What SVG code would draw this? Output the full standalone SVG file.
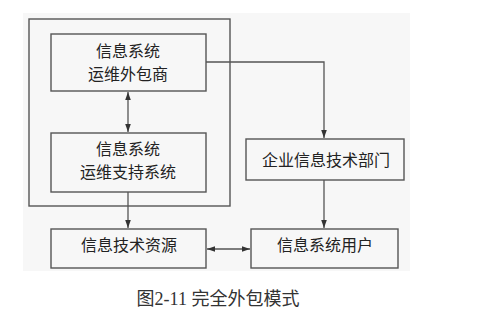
<svg xmlns="http://www.w3.org/2000/svg" width="484" height="320" viewBox="0 0 484 320">
<defs>
<style>
.box{fill:none;stroke:#555;stroke-width:1.4}
.lbl{font-family:"Noto Sans CJK SC","Liberation Sans",sans-serif;font-size:16px;fill:#222;text-anchor:middle}
.line{fill:none;stroke:#555;stroke-width:1.3}
.cap{font-family:"Liberation Serif","Noto Sans CJK SC",serif;font-size:18px;fill:#333;text-anchor:middle}
</style>
<marker id="ah" viewBox="0 0 10 10" refX="10" refY="5" markerWidth="8" markerHeight="8" markerUnits="userSpaceOnUse" orient="auto-start-reverse">
<path d="M0,1.5 L10,5 L0,8.5 z" fill="#333"/>
</marker>
</defs>
<rect x="0" y="0" width="484" height="320" fill="#fff"/>
<rect x="23" y="13" width="387" height="258" fill="#f7f7f7"/>
<g id="outer"><rect class="box" x="29" y="19" width="201" height="187"/></g>
<g id="outsourcer"><rect class="box" x="51" y="34" width="155" height="57"/><text class="lbl" x="128" y="57">信息系统</text><text class="lbl" x="128" y="80">运维外包商</text></g>
<g id="support"><rect class="box" x="51" y="133" width="155" height="59"/><text class="lbl" x="128" y="155">信息系统</text><text class="lbl" x="128" y="178">运维支持系统</text></g>
<g id="itdept"><rect class="box" x="246" y="139" width="158" height="41"/><text class="lbl" x="326" y="166">企业信息技术部门</text></g>
<g id="resource"><rect class="box" x="51" y="229" width="155" height="39"/><text class="lbl" x="129" y="251">信息技术资源</text></g>
<g id="users"><rect class="box" x="251" y="229" width="147" height="39"/><text class="lbl" x="325" y="251">信息系统用户</text></g>
<g id="connectors">
<line class="line" x1="128" y1="92" x2="128" y2="132" marker-start="url(#ah)" marker-end="url(#ah)"/>
<polyline class="line" points="206,62 324,62 324,138" marker-end="url(#ah)"/>
<line class="line" x1="324" y1="180" x2="324" y2="228" marker-end="url(#ah)"/>
<line class="line" x1="128" y1="192" x2="128" y2="228" marker-end="url(#ah)"/>
<line class="line" x1="207" y1="249" x2="250" y2="249" marker-start="url(#ah)" marker-end="url(#ah)"/>
</g>
<text class="cap" x="218" y="305">图2-11 完全外包模式</text>
</svg>
